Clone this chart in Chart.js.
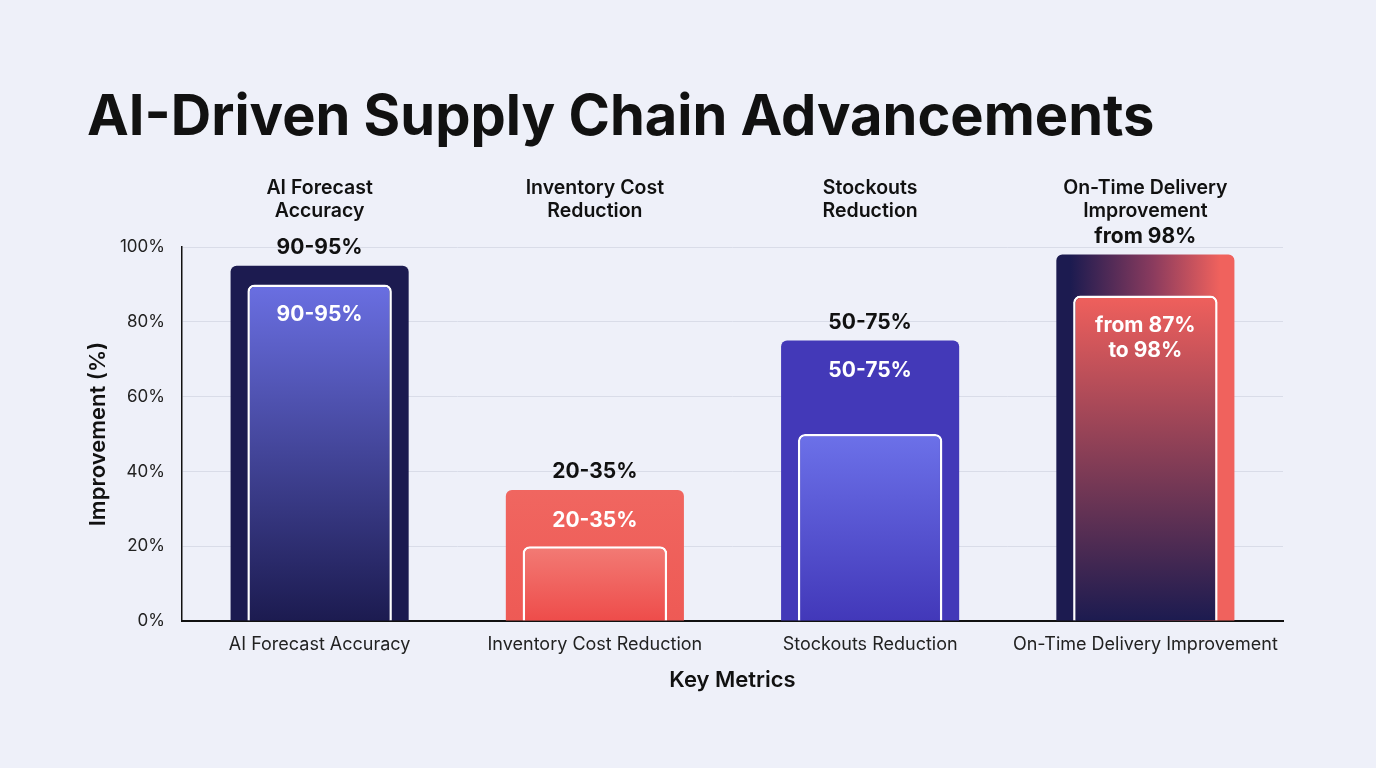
<!DOCTYPE html>
<html><head><meta charset="utf-8">
<script src="https://cdn.jsdelivr.net/npm/chart.js@4.4.1/dist/chart.umd.min.js"></script>
<style>
html,body{margin:0;padding:0;background:#eef0f9;}
#wrap{width:1376px;height:768px;position:relative;background:#eef0f9;}
canvas{display:block;}
</style></head><body><div id="wrap"><canvas id="c" width="1376" height="768"></canvas></div>
<script>
const chartTitle = 'AI-Driven Supply Chain Advancements';
const categories = ['AI Forecast Accuracy', 'Inventory Cost Reduction', 'Stockouts Reduction', 'On-Time Delivery Improvement'];
const headerLines = [['AI Forecast', 'Accuracy'], ['Inventory Cost', 'Reduction'], ['Stockouts', 'Reduction'], ['On-Time Delivery', 'Improvement']];
const lowValues = [90, 20, 50, 87];
const highValues = [95, 35, 75, 98];
const topLabels = ['90-95%', '20-35%', '50-75%', 'from 98%'];
const innerLabels = [['90-95%'], ['20-35%'], ['50-75%'], ['from 87%', 'to 98%']];
const yAxisTitle = 'Improvement (%)';
const xAxisTitle = 'Key Metrics';

const NAVY = '#1c1b50', INDIGO = '#4339b8', PERI = '#6b70e6', CORAL = '#ef5f5a';

function barBox(chart, ds, i, v) {
  const meta = chart.getDatasetMeta(ds);
  const el = meta.data[i];
  const y = chart.scales.y;
  const x = chart.scales.x;
  const cx = x.getPixelForValue(i);
  const w = el && el.width ? el.width : 150;
  return {left: cx - w / 2, right: cx + w / 2, top: y.getPixelForValue(v), bottom: y.getPixelForValue(0)};
}

function outerColor(ctx) {
  const chart = ctx.chart, i = ctx.dataIndex;
  if (!chart.chartArea || !chart.scales.y) return NAVY;
  const c = chart.ctx;
  const b = barBox(chart, 0, i, highValues[i]);
  if (i === 0) return NAVY;
  if (i === 1) { const g = c.createLinearGradient(0, b.top, 0, b.bottom); g.addColorStop(0, '#f06660'); g.addColorStop(1, '#ee5a55'); return g; }
  if (i === 2) return INDIGO;
  const g = c.createLinearGradient(b.left, 0, b.right, 0);
  g.addColorStop(0, NAVY); g.addColorStop(0.55, '#8a3b5e'); g.addColorStop(1, '#f0625d');
  return g;
}
function innerColor(ctx) {
  const chart = ctx.chart, i = ctx.dataIndex;
  if (!chart.chartArea || !chart.scales.y) return PERI;
  const c = chart.ctx;
  const b = barBox(chart, 1, i, lowValues[i]);
  const g = c.createLinearGradient(0, b.top, 0, b.bottom);
  if (i === 0) { g.addColorStop(0, '#6a6fe2'); g.addColorStop(1, NAVY); }
  else if (i === 1) { g.addColorStop(0, '#f27b75'); g.addColorStop(1, '#ee4c4a'); }
  else if (i === 2) { g.addColorStop(0, '#6c71e9'); g.addColorStop(1, '#4238b9'); }
  else { g.addColorStop(0, '#f0605c'); g.addColorStop(1, NAVY); }
  return g;
}

const annot = {
  id: 'annot',
  afterDatasetsDraw(chart) {
    const {ctx} = chart;
    const x = chart.scales.x, y = chart.scales.y;
    ctx.save();
    ctx.fillStyle = '#111111';
    ctx.font = '700 56px Inter';
    ctx.textAlign = 'left';
    ctx.textBaseline = 'alphabetic';
    ctx.fillText(chartTitle, 87, 135);

    ctx.font = '600 19.5px Inter';
    ctx.textAlign = 'center';
    ctx.textBaseline = 'middle';
    headerLines.forEach((lines, i) => {
      const cx = x.getPixelForValue(i);
      lines.forEach((t, j) => ctx.fillText(t, cx, 188 + j * 23));
    });

    ctx.font = '700 21px Inter';
    topLabels.forEach((t, i) => {
      const cx = x.getPixelForValue(i);
      ctx.fillText(t, cx, y.getPixelForValue(highValues[i]) - 18);
    });

    ctx.fillStyle = '#ffffff';
    innerLabels.forEach((lines, i) => {
      const cx = x.getPixelForValue(i);
      const hi = y.getPixelForValue(highValues[i]);
      const lo = y.getPixelForValue(lowValues[i]);
      const anchor = (lo - hi) < 50 ? lo : hi;
      lines.forEach((t, j) => ctx.fillText(t, cx, anchor + 30.5 + j * 25));
    });
    ctx.restore();
  }
};

new Chart(document.getElementById('c'), {
  type: 'bar',
  data: {
    labels: categories,
    datasets: [
      {
        label: 'Upper',
        data: highValues,
        grouped: false,
        order: 1,
        barPercentage: 0.647,
        categoryPercentage: 1,
        backgroundColor: outerColor,
        borderRadius: {topLeft: 6, topRight: 6, bottomLeft: 0, bottomRight: 0},
        borderSkipped: 'start',
        borderWidth: 0
      },
      {
        label: 'Lower',
        data: lowValues,
        grouped: false,
        order: 0,
        barPercentage: 0.525,
        categoryPercentage: 1,
        backgroundColor: innerColor,
        borderColor: '#ffffff',
        borderWidth: {top: 2.5, left: 2.5, right: 2.5, bottom: 0},
        borderRadius: {topLeft: 7, topRight: 7, bottomLeft: 0, bottomRight: 0},
        borderSkipped: 'start'
      }
    ]
  },
  options: {
    responsive: false,
    animation: false,
    events: [],
    layout: {padding: {top: 247, left: 85, right: 93, bottom: 70}},
    plugins: {legend: {display: false}, tooltip: {enabled: false}, title: {display: false}},
    scales: {
      x: {
        grid: {display: false},
        border: {display: true, color: '#111111', width: 2},
        ticks: {color: '#222222', font: {family: 'Inter', size: 18}, padding: 5, maxRotation: 0, autoSkip: false},
        title: {display: true, text: xAxisTitle, color: '#111111', font: {family: 'Inter', size: 22, weight: '600'}, padding: {top: 10}},
        afterFit(s) { s.height = 77; }
      },
      y: {
        min: 0, max: 100,
        grid: {color: '#d9dce8', lineWidth: 1, drawTicks: false},
        border: {display: true, color: '#111111', width: 1.5},
        ticks: {stepSize: 20, color: '#222222', font: {family: 'Inter', size: 17}, padding: 17, callback: v => v + '%'},
        title: {display: true, text: yAxisTitle, color: '#111111', font: {family: 'Inter', size: 22, weight: '600'}, padding: 0},
        afterFit(s) { s.width = 97; }
      }
    }
  },
  plugins: [annot]
});
</script></body></html>
